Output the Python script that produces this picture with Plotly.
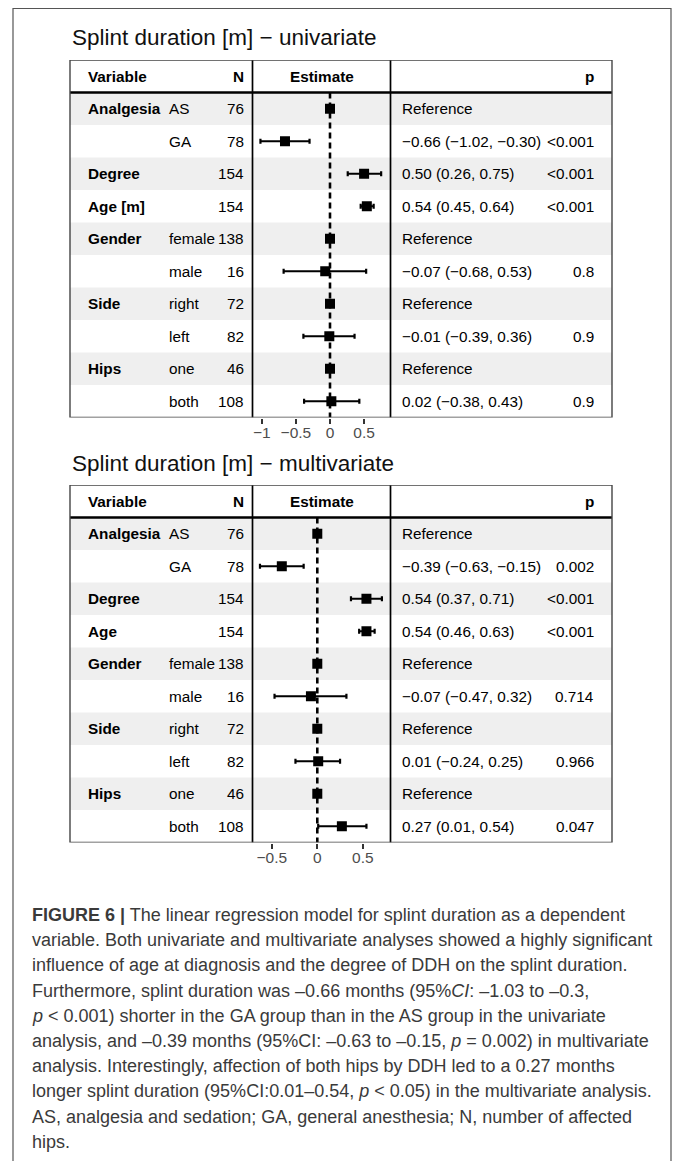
import plotly.graph_objects as go

W, H = 675, 1161

# ---------------- data ----------------
levels = ["AS", "GA", "", "", "female", "male", "right", "left", "one", "both"]
n_counts = [76, 78, 154, 154, 138, 16, 72, 82, 46, 108]

uni_title = "Splint duration [m] \u2212 univariate"
uni_variables = ["Analgesia", "", "Degree", "Age [m]", "Gender", "", "Side", "", "Hips", ""]
uni_est = [0, -0.66, 0.50, 0.54, 0, -0.07, 0, -0.01, 0, 0.02]
uni_lo = [None, -1.02, 0.26, 0.45, None, -0.68, None, -0.39, None, -0.38]
uni_hi = [None, -0.30, 0.75, 0.64, None, 0.53, None, 0.36, None, 0.43]
uni_p = ["", "<0.001", "<0.001", "<0.001", "", "0.8", "", "0.9", "", "0.9"]
uni_ticks = [-1, -0.5, 0, 0.5]

multi_title = "Splint duration [m] \u2212 multivariate"
multi_variables = ["Analgesia", "", "Degree", "Age", "Gender", "", "Side", "", "Hips", ""]
multi_est = [0, -0.39, 0.54, 0.54, 0, -0.07, 0, 0.01, 0, 0.27]
multi_lo = [None, -0.63, 0.37, 0.46, None, -0.47, None, -0.24, None, 0.01]
multi_hi = [None, -0.15, 0.71, 0.63, None, 0.32, None, 0.25, None, 0.54]
multi_p = ["", "0.002", "<0.001", "<0.001", "", "0.714", "", "0.966", "", "0.047"]
multi_ticks = [-0.5, 0, 0.5]

header_labels = ["Variable", "N", "Estimate", "p"]

caption_lines = [
    "<b>FIGURE 6 |</b> The linear regression model for splint duration as a dependent",
    "variable. Both univariate and multivariate analyses showed a highly significant",
    "influence of age at diagnosis and the degree of DDH on the splint duration.",
    "Furthermore, splint duration was \u20130.66 months (95%<i>CI</i>: \u20131.03 to \u20130.3,",
    "<i>p</i> &lt; 0.001) shorter in the GA group than in the AS group in the univariate",
    "analysis, and \u20130.39 months (95%CI: \u20130.63 to \u20130.15, <i>p</i> = 0.002) in multivariate",
    "analysis. Interestingly, affection of both hips by DDH led to a 0.27 months",
    "longer splint duration (95%CI:0.01\u20130.54, <i>p</i> &lt; 0.05) in the multivariate analysis.",
    "AS, analgesia and sedation; GA, general anesthesia; N, number of affected",
    "hips.",
]

# ---------------- styling / geometry (pixels) ----------------
FONT = "Liberation Sans, Arial, Helvetica, sans-serif"
TBL_L, TBL_R = 70, 612
DIV1, DIV2 = 252.5, 390.5
X_VAR, X_LEV, X_N, X_EST, X_P = 86, 166.5, 246, 400, 596
ROW_H = 32.5
TXT = 15.3
SHADE = "#efefef"


def px(x):
    return x / W


def py(y):
    return 1 - y / H


def fmt(v):
    return f"{v:.2f}".replace("-", "\u2212")


def esc(s):
    return s.replace("<", "&lt;")


fig = go.Figure()
annotations = []
shapes = []

panels = [
    dict(idx="", top=60, title_y=37, title=uni_title, var=uni_variables, est=uni_est,
         lo=uni_lo, hi=uni_hi, p=uni_p, ticks=uni_ticks, zero_px=330.0, ppu=68.2),
    dict(idx="2", top=485, title_y=463, title=multi_title, var=multi_variables, est=multi_est,
         lo=multi_lo, hi=multi_hi, p=multi_p, ticks=multi_ticks, zero_px=317.3, ppu=91.0),
]

nrows = len(levels)
for pn in panels:
    k = pn["idx"]
    xa, ya = "x" + k, "y" + k
    top = pn["top"]
    bottom = top + ROW_H * (nrows + 1)
    rows = list(range(1, nrows + 1))

    # axes
    xr = [(DIV1 - pn["zero_px"]) / pn["ppu"], (DIV2 - pn["zero_px"]) / pn["ppu"]]
    fig.update_layout(**{
        "xaxis" + k: dict(domain=[px(DIV1), px(DIV2)], range=xr, anchor=ya,
                          tickvals=pn["ticks"], ticks="outside", ticklen=5, tickwidth=1.5,
                          tickcolor="#333333", showgrid=False, zeroline=False, showline=False,
                          ticklabelstandoff=-4,
                          tickfont=dict(family=FONT, size=15.5, color="#4d4d4d"),
                          fixedrange=True),
        "yaxis" + k: dict(domain=[py(bottom), py(top)], range=[nrows + 0.5, -0.5],
                          anchor=xa, visible=False, fixedrange=True),
    })

    # row shading
    for r in rows:
        if r % 2 == 1:
            shapes.append(dict(type="rect", xref="paper", yref=ya, x0=px(TBL_L), x1=px(TBL_R),
                               y0=r - 0.5, y1=r + 0.5, fillcolor=SHADE, line=dict(width=0),
                               layer="below"))
    # dividers
    for xd in (DIV1, DIV2):
        shapes.append(dict(type="line", xref="paper", yref=ya, x0=px(xd), x1=px(xd),
                           y0=-0.5, y1=nrows + 0.5, line=dict(color="black", width=1.7)))
    shapes.append(dict(type="line", xref="paper", yref=ya, x0=px(TBL_L), x1=px(TBL_R),
                       y0=0.5, y1=0.5, line=dict(color="black", width=2.4)))
    shapes.append(dict(type="rect", xref="paper", yref=ya, x0=px(TBL_L), x1=px(TBL_R),
                       y0=-0.5, y1=nrows + 0.5, line=dict(color="#444444", width=1.4)))

    # zero reference line
    fig.add_trace(go.Scatter(x=[0, 0], y=[0.5, nrows + 0.5], xaxis=xa, yaxis=ya, mode="lines",
                             line=dict(color="black", width=2.6, dash="6px,4px"),
                             hoverinfo="skip", showlegend=False))

    # estimates with CI
    ci_rows = [r for r, lo in zip(rows, pn["lo"]) if lo is not None]
    ci_est = [e for e, lo in zip(pn["est"], pn["lo"]) if lo is not None]
    ci_plus = [h - e for e, h, lo in zip(pn["est"], pn["hi"], pn["lo"]) if lo is not None]
    ci_minus = [e - lo for e, lo in zip(pn["est"], pn["lo"]) if lo is not None]
    fig.add_trace(go.Scatter(x=ci_est, y=ci_rows, xaxis=xa, yaxis=ya, mode="markers",
                             marker=dict(symbol="square", size=10, color="black"),
                             error_x=dict(type="data", symmetric=False, array=ci_plus,
                                          arrayminus=ci_minus, color="black", thickness=2.2,
                                          width=2.5),
                             showlegend=False))
    ref_rows = [r for r, lo in zip(rows, pn["lo"]) if lo is None]
    ref_est = [e for e, lo in zip(pn["est"], pn["lo"]) if lo is None]
    fig.add_trace(go.Scatter(x=ref_est, y=ref_rows, xaxis=xa, yaxis=ya, mode="markers",
                             marker=dict(symbol="square", size=10, color="black"),
                             showlegend=False))

    # title
    annotations.append(dict(text=pn["title"], xref="paper", yref="paper", x=px(TBL_L),
                            y=py(pn["title_y"]), xanchor="left", yanchor="middle",
                            showarrow=False, font=dict(family=FONT, size=22.5, color="#111111")))

    # header
    hdr_pos = [(X_VAR, "left"), (X_N, "right"), ((DIV1 + DIV2) / 2, "center"), (X_P, "right")]
    for lab, (xx, anc) in zip(header_labels, hdr_pos):
        annotations.append(dict(text=f"<b>{lab}</b>", xref="paper", yref=ya, x=px(xx), y=0,
                                xanchor=anc, yanchor="middle", showarrow=False,
                                font=dict(family=FONT, size=TXT, color="black")))

    # table body
    for r, v, lev, n, e, lo, hi, p in zip(rows, pn["var"], levels, n_counts, pn["est"],
                                          pn["lo"], pn["hi"], pn["p"]):
        cells = []
        if v:
            cells.append((f"<b>{v}</b>", X_VAR, "left"))
        if lev:
            cells.append((lev, X_LEV, "left"))
        cells.append((str(n), X_N, "right"))
        lab = "Reference" if lo is None else f"{fmt(e)} ({fmt(lo)}, {fmt(hi)})"
        cells.append((lab, X_EST, "left"))
        if p:
            cells.append((esc(p), X_P, "right"))
        for t, xx, anc in cells:
            annotations.append(dict(text=t, xref="paper", yref=ya, x=px(xx), y=r,
                                    xanchor=anc, yanchor="middle", showarrow=False,
                                    font=dict(family=FONT, size=TXT, color="black")))

# caption
for i, line in enumerate(caption_lines):
    annotations.append(dict(text=line, xref="paper", yref="paper", x=px(30), y=py(915 + 25.2 * i),
                            xanchor="left", yanchor="middle", showarrow=False,
                            font=dict(family=FONT, size=18, color="#3a3a3a")))

# outer frame
shapes.append(dict(type="rect", xref="paper", yref="paper", x0=px(13), x1=px(671),
                   y0=-0.05, y1=py(8.5), line=dict(color="#555555", width=1.2)))

fig.update_layout(width=W, height=H, margin=dict(l=0, r=0, t=0, b=0),
                  paper_bgcolor="white", plot_bgcolor="rgba(0,0,0,0)",
                  shapes=shapes, annotations=annotations, showlegend=False)

fig.write_html("out.html", config={"displayModeBar": False},
               post_script="document.body.style.margin='0';")
